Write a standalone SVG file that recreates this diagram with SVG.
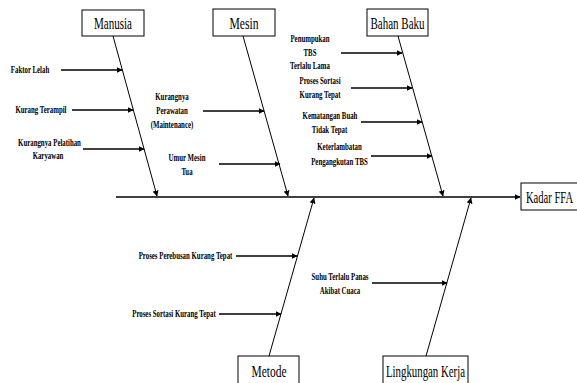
<svg xmlns="http://www.w3.org/2000/svg" width="577" height="383" viewBox="0 0 577 383">
<style>
.box{fill:#fff;stroke:#000;stroke-width:1}
.bt{font-family:"Liberation Serif",serif;font-size:17px;fill:#000;text-anchor:middle}
.lb{font-family:"Liberation Serif",serif;font-size:9.5px;font-weight:bold;fill:#000;text-anchor:middle}
.bone{stroke:#000;stroke-width:1;fill:none;marker-end:url(#ah)}
.arr{stroke:#000;stroke-width:1.4;fill:none;marker-end:url(#ah)}
.spine{stroke:#000;stroke-width:1.5;fill:none;marker-end:url(#ah)}
</style>
<defs>
<marker id="ah" viewBox="0 0 10 10" refX="9" refY="5" markerWidth="6" markerHeight="6" markerUnits="userSpaceOnUse" orient="auto">
<path d="M0,0 L10,5 L0,10 z" fill="#000"/>
</marker>
</defs>
<rect width="577" height="383" fill="#fff"/>
<g id="connectors">
<line class="spine" x1="116" y1="197" x2="520" y2="197"/>
<line class="bone" x1="113" y1="36" x2="157" y2="196"/>
<line class="bone" x1="243" y1="36" x2="288" y2="196"/>
<line class="bone" x1="398" y1="36" x2="443" y2="196"/>
<line class="bone" x1="269" y1="356" x2="314" y2="198"/>
<line class="bone" x1="426" y1="356" x2="471" y2="198"/>
<line class="arr" x1="61" y1="70" x2="122" y2="70"/>
<line class="arr" x1="72" y1="110" x2="133" y2="110"/>
<line class="arr" x1="83" y1="149" x2="144" y2="149"/>
<line class="arr" x1="203" y1="111" x2="264" y2="111"/>
<line class="arr" x1="219" y1="164" x2="280" y2="164"/>
<line class="arr" x1="341" y1="53" x2="402" y2="53"/>
<line class="arr" x1="351" y1="88" x2="412" y2="88"/>
<line class="arr" x1="361" y1="122" x2="422" y2="122"/>
<line class="arr" x1="371" y1="156" x2="432" y2="156"/>
<line class="arr" x1="236" y1="256" x2="297" y2="256"/>
<line class="arr" x1="219" y1="314" x2="281" y2="314"/>
<line class="arr" x1="372" y1="283" x2="447" y2="283"/>
</g>
<g id="manusia">
<rect class="box" x="82" y="10" width="62" height="26"/>
<text class="bt" x="113" y="29" textLength="38" lengthAdjust="spacingAndGlyphs">Manusia</text>
</g>
<g id="mesin">
<rect class="box" x="213" y="9" width="62" height="27"/>
<text class="bt" x="244" y="29" textLength="29" lengthAdjust="spacingAndGlyphs">Mesin</text>
</g>
<g id="bahan-baku">
<rect class="box" x="367" y="9" width="61" height="27"/>
<text class="bt" x="397.5" y="29" textLength="54" lengthAdjust="spacingAndGlyphs">Bahan Baku</text>
</g>
<g id="kadar-ffa">
<rect class="box" x="521" y="183" width="60" height="27"/>
<text class="bt" x="549.5" y="203" textLength="47" lengthAdjust="spacingAndGlyphs">Kadar FFA</text>
</g>
<g id="metode">
<rect class="box" x="238" y="356" width="61" height="30"/>
<text class="bt" x="269" y="377" textLength="35" lengthAdjust="spacingAndGlyphs">Metode</text>
</g>
<g id="lingkungan-kerja">
<rect class="box" x="383" y="356" width="85" height="30"/>
<text class="bt" x="425.5" y="377" textLength="79" lengthAdjust="spacingAndGlyphs">Lingkungan Kerja</text>
</g>
<g id="labels">
<text class="lb" transform="translate(30,73) scale(0.72,1)">Faktor Lelah</text>
<text class="lb" transform="translate(41,113) scale(0.72,1)">Kurang Terampil</text>
<text class="lb" transform="translate(49.5,146) scale(0.72,1)">Kurangnya Pelatihan</text>
<text class="lb" transform="translate(48,159) scale(0.72,1)">Karyawan</text>
<text class="lb" transform="translate(172,100) scale(0.72,1)">Kurangnya</text>
<text class="lb" transform="translate(172,114) scale(0.72,1)">Perawatan</text>
<text class="lb" transform="translate(172,128) scale(0.72,1)">(Maintenance)</text>
<text class="lb" transform="translate(187,161) scale(0.72,1)">Umur Mesin</text>
<text class="lb" transform="translate(187,175) scale(0.72,1)">Tua</text>
<text class="lb" transform="translate(310,42) scale(0.72,1)">Penumpukan</text>
<text class="lb" transform="translate(310,56) scale(0.72,1)">TBS</text>
<text class="lb" transform="translate(310,69) scale(0.72,1)">Terlalu Lama</text>
<text class="lb" transform="translate(320,84) scale(0.72,1)">Proses Sortasi</text>
<text class="lb" transform="translate(320,98) scale(0.72,1)">Kurang Tepat</text>
<text class="lb" transform="translate(330,119) scale(0.72,1)">Kematangan Buah</text>
<text class="lb" transform="translate(329.5,133) scale(0.72,1)">Tidak Tepat</text>
<text class="lb" transform="translate(339.5,150) scale(0.72,1)">Keterlambatan</text>
<text class="lb" transform="translate(339.5,165) scale(0.72,1)">Pengangkutan TBS</text>
<text class="lb" transform="translate(185.5,259) scale(0.72,1)">Proses Perebusan Kurang Tepat</text>
<text class="lb" transform="translate(174,317) scale(0.72,1)">Proses Sortasi Kurang Tepat</text>
<text class="lb" transform="translate(340,280) scale(0.72,1)">Suhu Terlalu Panas</text>
<text class="lb" transform="translate(340,294) scale(0.72,1)">Akibat Cuaca</text>
</g>
</svg>
